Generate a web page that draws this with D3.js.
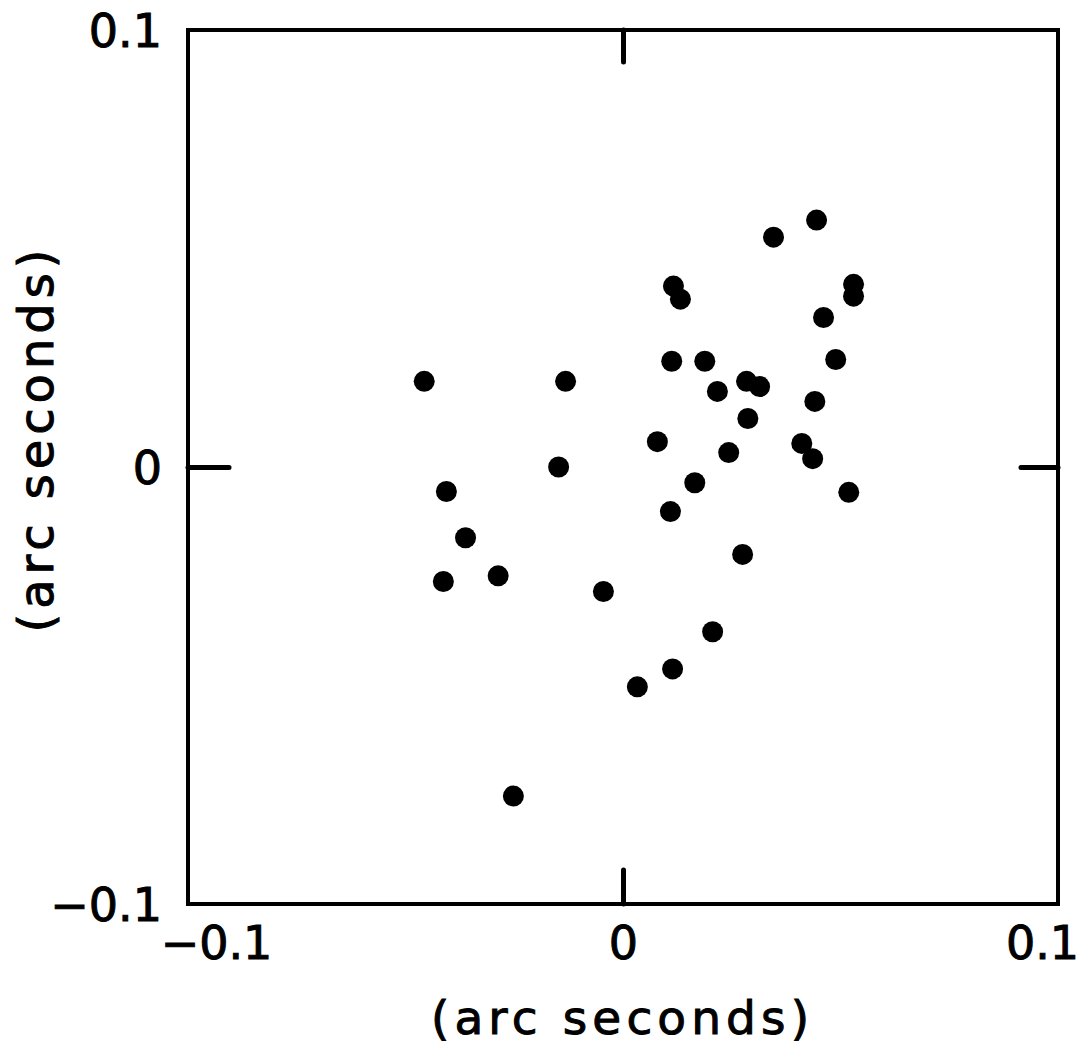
<!DOCTYPE html>
<html>
<head>
<meta charset="utf-8">
<script src="https://cdn.jsdelivr.net/npm/d3@7"></script>
<style>
  html, body { margin: 0; padding: 0; background: #fff; }
  svg text { font-family: "DejaVu Sans", sans-serif; fill: #000; stroke: #000; stroke-width: 1; }
</style>
</head>
<body>
<svg id="chart" width="1081" height="1052"></svg>
<script>
// Offsets in arc seconds (x, y)
const xValues = [-0.0457, -0.0132, 0.0116, 0.0132, 0.0346, 0.0445, 0.0530, 0.0530, 0.0461,
  0.0112, 0.0188, 0.0489, 0.0284, 0.0314, 0.0217, 0.0441, 0.0287, 0.0079, 0.0243, 0.0411,
  0.0436, -0.0148, -0.0406, 0.0165, 0.0109, 0.0519, -0.0362, -0.0413, -0.0287, -0.0045,
  0.0275, 0.0206, 0.0114, 0.0033, -0.0252];
const yValues = [0.0196, 0.0196, 0.0414, 0.0384, 0.0526, 0.0565, 0.0418, 0.0391, 0.0342,
  0.0242, 0.0242, 0.0246, 0.0196, 0.0184, 0.0173, 0.0150, 0.0111, 0.0058, 0.0033, 0.0054,
  0.0019, 0.0000, -0.0056, -0.0036, -0.0102, -0.0058, -0.0162, -0.0262, -0.0249, -0.0285,
  -0.0200, -0.0377, -0.0462, -0.0503, -0.0753];
const xTicks = [-0.1, 0, 0.1];
const yTicks = [-0.1, 0, 0.1];
const xTickLabels = ["\u22120.1", "0", "0.1"];
const yTickLabels = ["\u22120.1", "0", "0.1"];
const xTitle = "(arc seconds)";
const yTitle = "(arc seconds)";

const svg = d3.select("#chart");
const m = { left: 188, top: 30, right: 1058, bottom: 904 };

const x = d3.scaleLinear().domain([-0.1, 0.1]).range([m.left, m.right]);
const y = d3.scaleLinear().domain([-0.1, 0.1]).range([m.bottom, m.top]);

// frame
svg.append("rect")
  .attr("x", m.left).attr("y", m.top)
  .attr("width", m.right - m.left).attr("height", m.bottom - m.top)
  .attr("fill", "none").attr("stroke", "#000").attr("stroke-width", 4);

function styleTicks(g) {
  g.select(".domain").remove();
  g.selectAll(".tick line").attr("stroke", "#000").attr("stroke-width", 5).attr("stroke-linecap", "round");
}

// inward zero ticks on all four sides
svg.append("g").attr("transform", `translate(${m.left},0)`)
  .call(d3.axisLeft(y).tickValues([0]).tickSizeInner(-41).tickFormat(""))
  .call(styleTicks);
svg.append("g").attr("transform", `translate(${m.right},0)`)
  .call(d3.axisRight(y).tickValues([0]).tickSizeInner(-37).tickFormat(""))
  .call(styleTicks);
svg.append("g").attr("transform", `translate(0,${m.top})`)
  .call(d3.axisTop(x).tickValues([0]).tickSizeInner(-32).tickFormat(""))
  .call(styleTicks);
svg.append("g").attr("transform", `translate(0,${m.bottom})`)
  .call(d3.axisBottom(x).tickValues([0]).tickSizeInner(-34).tickFormat(""))
  .call(styleTicks);

// tick labels
const yLab = svg.append("g").attr("transform", `translate(${m.left},0)`)
  .call(d3.axisLeft(y).tickValues(yTicks).tickSize(0).tickPadding(26)
    .tickFormat((d, i) => yTickLabels[i]));
yLab.select(".domain").remove();
yLab.selectAll("text").attr("font-size", 46).attr("font-family", "DejaVu Sans").attr("fill", "#000")
  .attr("dy", "0.36em");

const xLab = svg.append("g").attr("transform", `translate(0,${m.bottom})`)
  .call(d3.axisBottom(x).tickValues(xTicks).tickSize(0).tickPadding(22)
    .tickFormat((d, i) => xTickLabels[i]));
xLab.select(".domain").remove();
xLab.selectAll("text").attr("font-size", 46).attr("font-family", "DejaVu Sans").attr("fill", "#000")
  .attr("dx", (d, i) => [28, 0, -16][i]);

// axis titles
svg.append("text")
  .attr("x", (m.left + m.right) / 2 - 3).attr("y", 1034)
  .attr("text-anchor", "middle").attr("font-size", 47)
  .attr("textLength", 378).attr("lengthAdjust", "spacing")
  .text(xTitle);
svg.append("text")
  .attr("transform", `translate(53,441) rotate(-90)`)
  .attr("text-anchor", "middle").attr("font-size", 48)
  .attr("textLength", 383).attr("lengthAdjust", "spacing")
  .text(yTitle);

// points
const pts = xValues.map((v, i) => ({ x: v, y: yValues[i] }));
svg.append("g").selectAll("circle").data(pts).join("circle")
  .attr("cx", d => x(d.x)).attr("cy", d => y(d.y))
  .attr("r", 10.5).attr("fill", "#000");
</script>
</body>
</html>
